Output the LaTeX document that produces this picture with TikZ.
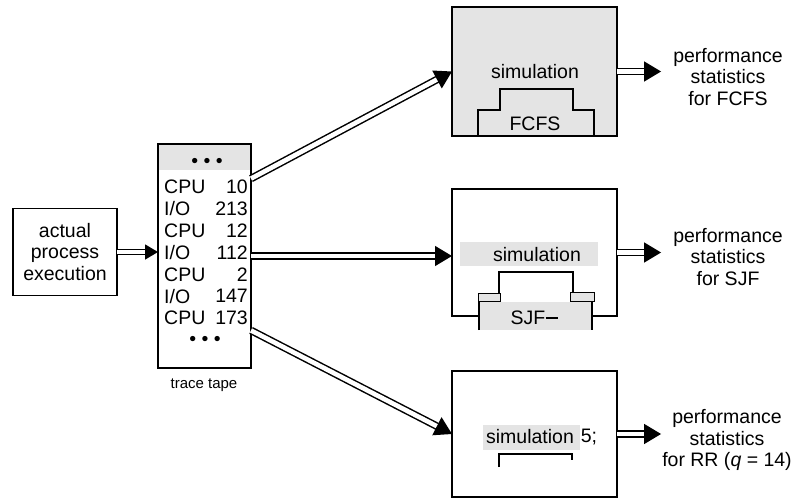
\documentclass[tikz,border=0pt]{standalone}
\usepackage{fontspec}
\setmainfont{Liberation Sans}
\usetikzlibrary{arrows.meta,calc}
\definecolor{dotgray}{RGB}{228,228,228}
\colorlet{Scolor}{dotgray}
\newcommand{\labelfont}{\fontsize{19.5}{21.5}\selectfont}

\begin{document}
\begin{tikzpicture}[x=1pt,y=-1pt,
  box/.style={draw,line width=1.6pt,inner sep=0pt,outer sep=0pt},
  flow/.style={double=white,double distance=4.6pt,line width=1.5pt,-{Triangle[length=17pt,width=20pt]}},
  smallflow/.style={flow,double distance=3.5pt,-{Triangle[length=13pt,width=15pt]}},
  stat/.style={align=center,font=\labelfont,inner sep=1pt}]

\useasboundingbox (0,0) rectangle (797,498);

\fill[Scolor] (158,144) rectangle (251,170);
\node[box,line width=2pt,minimum width=93,minimum height=224] (tape) at (204.5,256) {};
\node[box,fill=white,minimum width=104,minimum height=87,align=center,font=\labelfont] (proc) at (65,252) {actual\\process\\execution};

\node[box,fill=Scolor,minimum width=165,minimum height=129] (fcfs) at (534.5,71.5) {};
\node[box,fill=white,minimum width=165,minimum height=127] (sjf) at (534.5,252.5) {};
\node[box,fill=white,minimum width=165,minimum height=126] (rr) at (534.5,434) {};

\begin{scope}[every node/.style={font=\labelfont,inner sep=0pt}]
\node (topdots) at (207,163) {• • •};
\foreach \op/\val [count=\i] in {CPU/10,{I/O}/213,CPU/12,{I/O}/112,CPU/2,{I/O}/147,CPU/173}{
  \node[anchor=west] (op\i) at (164,{187+(\i-1)*21.83}) {\op};
  \node[anchor=east] (num\i) at (248,{187+(\i-1)*21.83}) {\val};
}
\node (botdots) at (205,341) {• • •};
\end{scope}
\node[font=\fontsize{15}{17}\selectfont] (tapelabel) at (204,385) {trace tape};

% FCFS
\begin{scope}[every node/.style={font=\labelfont,inner sep=0pt}]
\node (simA) at (535,72) {simulation};
\draw[line width=1.6pt] (478,136) -- (478,110) -- (500,110) -- (500,89) -- (573,89) -- (573,110) -- (594,110) -- (594,136);
\node (nameA) at (535,124) {FCFS};
\end{scope}

% SJF
\fill[Scolor] (460,242) rectangle (598,266);
\draw[fill=Scolor,line width=0.6pt] (478,293) rectangle (500,301);
\draw[fill=Scolor,line width=0.6pt] (570,292) rectangle (594,301);
\fill[Scolor] (479,302) rectangle (592,330);
\draw[line width=1.6pt] (499,293) -- (499,272) -- (573,272) -- (573,292);
\draw[line width=1.6pt] (479,330) -- (479,302) (592,302) -- (592,330);
\begin{scope}[every node/.style={font=\labelfont,inner sep=0pt}]
\node (simB) at (537,255) {simulation};
\node (nameB) at (528,318) {SJF};
\end{scope}
\draw[line width=1.2pt] (nameB.east) -- ++(12,0);

% RR
\fill[Scolor] (483,425) rectangle (580,450);
\begin{scope}[every node/.style={font=\labelfont,inner sep=0pt}]
\node (simC) at (530,437) {simulation};
\node (markC) at (589,437) {5;};
\end{scope}
\draw[line width=1.6pt] (499,467) -- (499,454) -- (572,454) -- (572,460);

% results
\node[stat] (statfcfs) at (728,77) {performance\\statistics\\for FCFS};
\node[stat] (statsjf) at (728,257) {performance\\statistics\\for SJF};
\node[stat] (statrr) at (727,440) {performance\\statistics\\for RR (\textit{q} = 14)};

\draw[smallflow] (proc.east) -- (proc.east -| tape.west);
\draw[flow] (tape.59) -- (fcfs.west);
\draw[flow] (tape.east) -- (tape.east -| sjf.west);
\draw[flow] (tape.-58) -- (rr.west);
\draw[flow] (fcfs.east) -- (fcfs.east -| statrr.west);
\draw[flow] (sjf.east) -- (sjf.east -| statrr.west);
\draw[flow] (rr.east) -- (rr.east -| statrr.west);
\end{tikzpicture}
\end{document}
